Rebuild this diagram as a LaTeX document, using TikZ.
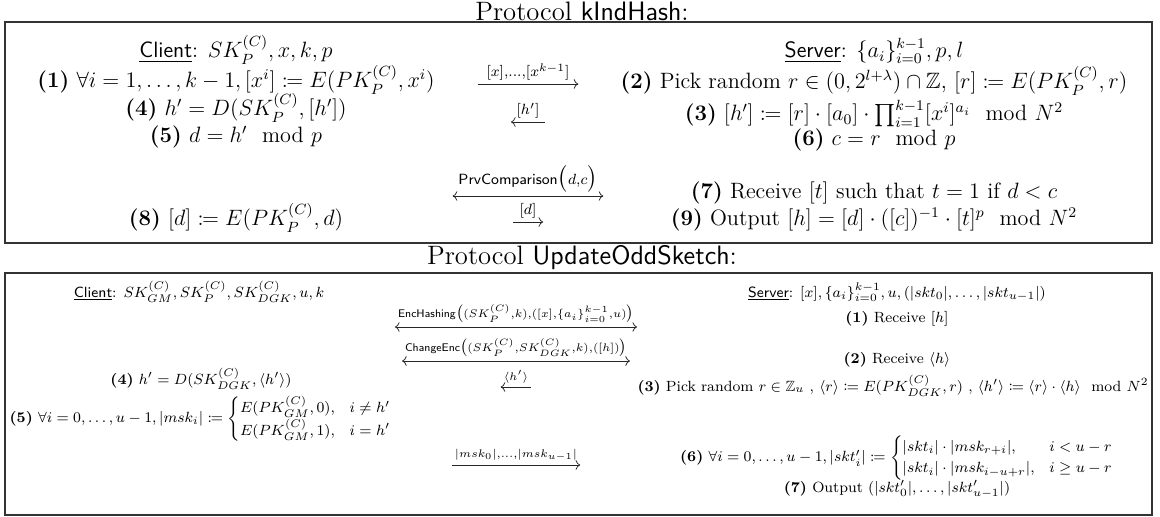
\documentclass[tikz,border=0pt]{standalone}
\usepackage{amsmath,amssymb,mathtools}
\usetikzlibrary{arrows.meta}
\begin{document}
\begin{tikzpicture}[x=0.5405pt,y=-0.5405pt,
  t/.style={inner sep=0pt,anchor=base},
  tc/.style={inner sep=0pt,anchor=center},
  bx/.style={draw=black!80,line width=0.6pt},
  ttl/.style={inner sep=0pt,anchor=center,font=\fontsize{14.4}{17}\selectfont},
  one/.style={font=\fontsize{12}{14.5}\selectfont},
  two/.style={font=\fontsize{8}{9.5}\selectfont},
  lab/.style={inner xsep=1.5pt,inner ysep=2pt,anchor=south},
  arr/.style={line width=0.4pt,draw=black!85},
  >={Computer Modern Rightarrow}
]
\useasboundingbox (0,0) rectangle (1160,517);
% ---------- Protocol kIndHash ----------
\node[ttl] (t1) at (582,11) {Protocol \textsf{kIndHash}:};
\draw[bx] (5,22) rectangle (1152,243);
\node[t,one] (c0) at (236,58) {\underline{\textsf{Client}}: $SK_P^{(C)}, x, k, p$};
\node[t,one] (c1) at (236,88) {\textbf{(1)} $\forall i = 1,\dots,k-1, [x^i] \coloneqq E(PK_P^{(C)}, x^i)$};
\node[t,one] (c4) at (236,116) {\textbf{(4)} $h' = D(SK_P^{(C)}, [h'])$};
\node[t,one] (c5) at (236,143) {\textbf{(5)} $d = h' \mod{p}$};
\node[t,one] (c8) at (236,226) {\textbf{(8)} $[d] \coloneqq E(PK_P^{(C)}, d)$};
\node[t,one] (s0) at (874,58) {\underline{\textsf{Server}}: $\{a_i\}_{i=0}^{k-1}, p, l$};
\node[t,one] (s2) at (874,89) {\textbf{(2)} Pick random $r \in (0, 2^{l+\lambda}) \cap \mathbb{Z}$, $[r] \coloneqq E(PK_P^{(C)}, r)$};
\node[t,one] (s3) at (874,121) {\textbf{(3)} $[h'] \coloneqq [r]\cdot[a_0]\cdot\prod_{i=1}^{k-1}[x^i]^{a_i} \mod{N^2}$};
\node[t,one] (s6) at (874,146) {\textbf{(6)} $c = r \mod{p}$};
\node[t,one] (s7) at (874,199) {\textbf{(7)} Receive $[t]$ such that $t = 1$ if $d < c$};
\node[t,one] (s9) at (874,226) {\textbf{(9)} Output $[h] = [d]\cdot([c])^{-1}\cdot[t]^p \mod{N^2}$};
\node[lab,one,minimum width=54pt] (l1) at (528,84) {$\scriptstyle [x],\dots,[x^{k-1}]$};
\draw[arr,->] (l1.south west) -- (l1.south east);
\node[lab,one,minimum width=18pt] (l2) at (528,122) {$\scriptstyle [h']$};
\draw[arr,<-] (l2.south west) -- (l2.south east);
\node[lab,one,minimum width=81pt] (l3) at (528,196) {$\scriptstyle \mathsf{PrvComparison}\big(d,c\big)$};
\draw[arr,<->] (l3.south west) -- (l3.south east);
\node[lab,one,minimum width=16pt] (l4) at (528,222) {$\scriptstyle [d]$};
\draw[arr,->] (l4.south west) -- (l4.south east);
% ---------- Protocol UpdateOddSketch ----------
\node[ttl] (t2) at (582,258) {Protocol \textsf{UpdateOddSketch}:};
\draw[bx] (5,273) rectangle (1152,515);
\node[t,two] (C0) at (199,297) {\underline{\textsf{Client}}: $SK_{GM}^{(C)}, SK_P^{(C)}, SK_{DGK}^{(C)}, u, k$};
\node[t,two] (C4) at (201,384) {\textbf{(4)} $h' = D(SK_{DGK}^{(C)}, \langle h'\rangle)$};
\node[tc,two] (C5) at (201,419) {\textbf{(5)} $\forall i = 0,\dots,u-1, |msk_i| \coloneqq \begin{cases} E(PK_{GM}^{(C)},0), & i\neq h'\\ E(PK_{GM}^{(C)},1), & i=h' \end{cases}$};
\node[t,two] (S0) at (897,297) {\underline{\textsf{Server}}: $[x], \{a_i\}_{i=0}^{k-1}, u, (|skt_0|, \dots, |skt_{u-1}|)$};
\node[t,two] (S1) at (897,322) {\textbf{(1)} Receive $[h]$};
\node[t,two] (S2) at (897,363) {\textbf{(2)} Receive $\langle h\rangle$};
\node[t,two] (S3) at (893,391) {\textbf{(3)} Pick random $r\in\mathbb{Z}_u$ , $\langle r\rangle \coloneqq E(PK_{DGK}^{(C)}, r)$ , $\langle h'\rangle \coloneqq \langle r\rangle\cdot\langle h\rangle \mod{N^2}$};
\node[tc,two] (S6) at (897,458) {\textbf{(6)} $\forall i = 0,\dots,u-1, |skt'_i| \coloneqq \begin{cases} |skt_i|\cdot|msk_{r+i}|, & i < u-r\\ |skt_i|\cdot|msk_{i-u+r}|, & i \geq u-r \end{cases}$};
\node[t,two] (S7) at (897,492) {\textbf{(7)} Output $(|skt'_0|, \dots, |skt'_{u-1}|)$};
\node[lab,two,minimum width=120pt] (m1) at (516,327) {$\scriptstyle \mathsf{EncHashing}\big((SK_P^{(C)},k),([x],\{a_i\}_{i=0}^{k-1},u)\big)$};
\draw[arr,<->] (m1.south west) -- (m1.south east);
\node[lab,two,minimum width=112pt] (m2) at (516,361) {$\scriptstyle \mathsf{ChangeEnc}\big((SK_P^{(C)},SK_{DGK}^{(C)},k),([h])\big)$};
\draw[arr,<->] (m2.south west) -- (m2.south east);
\node[lab,two,minimum width=15pt] (m3) at (516,387) {$\scriptstyle \langle h'\rangle$};
\draw[arr,<-] (m3.south west) -- (m3.south east);
\node[lab,two,minimum width=62pt] (m4) at (516,465) {$\scriptstyle |msk_0|,\dots,|msk_{u-1}|$};
\draw[arr,->] (m4.south west) -- (m4.south east);
\end{tikzpicture}
\end{document}
